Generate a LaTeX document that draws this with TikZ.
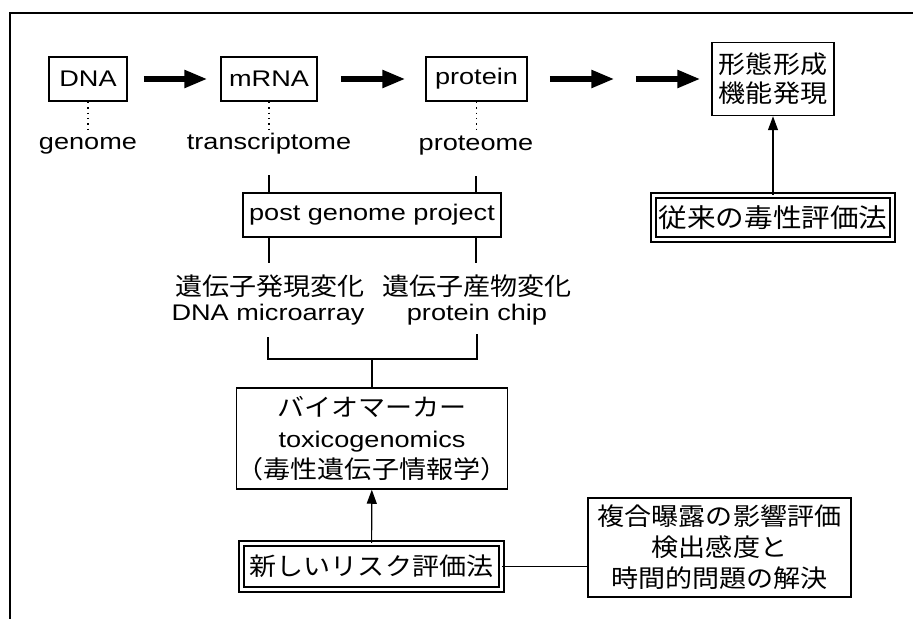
\documentclass[tikz,border=0pt]{standalone}
\usepackage{fontspec}
\setmainfont{Liberation Sans}[FakeStretch=1.2]
\newfontfamily\jpf{Noto Sans CJK JP}[FakeStretch=1.1]
\newcommand\J{\fontsize{12.3}{15.5}\jpf}
\usetikzlibrary{arrows.meta}
\begin{document}
\begin{tikzpicture}[x=0.5pt,y=-0.5pt,
  lat/.style={font=\fontsize{11.3}{15.5}\selectfont},
  jp/.style={font=\fontsize{12.3}{15.5}\jpf},
  box/.style={draw, line width=0.75pt, inner sep=0pt, align=center},
  dbox/.style={box, double, double distance=1.75pt},
  lbl/.style={inner sep=0pt, anchor=base, text height=10pt, text depth=2.5pt, font=\fontsize{11.3}{14}\selectfont},
  jplbl/.style={inner sep=0pt, anchor=base, font=\fontsize{12.3}{15.5}\jpf},
  bigarrow/.style={line width=2.7pt, -{Triangle[length=11.5pt,width=8.5pt]}},
  thinarrow/.style={line width=0.6pt, -{Triangle[length=7pt,width=5pt]}},
  conn/.style={line width=0.6pt},
  dots/.style={line width=0.7pt, dotted}]
\useasboundingbox (0,0) rectangle (913,619);
% frame
\draw[line width=0.75pt] (913,13) -- (10,13) -- (10,619);

% top row
\node[box, lat, minimum width=39pt, minimum height=22pt] (dna) at (88,79) {DNA};
\node[box, lat, minimum width=48pt, minimum height=22pt] (mrna) at (269,79) {mRNA};
\node[box, lat, minimum width=50.5pt, minimum height=22pt] (protein) at (476.5,79) {protein};
\node[box, font=\fontsize{12.3}{14.5}\jpf, minimum width=61pt, minimum height=36.5pt] (morph) at (773,79) {形態形成\\機能発現};

\draw[bigarrow, shorten <=8pt, shorten >=6.5pt] (dna) -- (mrna);
\draw[bigarrow, shorten <=11.5pt, shorten >=10pt] (mrna) -- (protein);
\draw[bigarrow, shorten <=11pt, shorten >=48.5pt] (protein) -- (morph);
\draw[bigarrow, shorten <=54pt, shorten >=5.5pt] (protein) -- (morph);

% omics labels
\node[lbl] (genome) at (88,150) {genome};
\node[lbl] (transcriptome) at (269,150) {transcriptome};
\node[lbl] (proteome) at (476,151) {proteome};
\draw[dots] (dna.south) -- (dna.south |- genome.north);
\draw[dots] (mrna.south) -- (mrna.south |- transcriptome.north);
\draw[dots] (protein.south) -- (protein.south |- proteome.north);

% post genome
\node[box, lat, minimum width=129pt, minimum height=22pt] (pg) at (372,215) {post genome project};
\draw[conn, shorten <=10pt] (transcriptome.south) -- (transcriptome.south |- pg.north);
\draw[conn, shorten <=10pt] (proteome.south) -- (proteome.south |- pg.north);

\node[jplbl] (gexp1) at (270,296) {遺伝子発現変化};
\node[lbl] (gexp2) at (268,321) {DNA microarray};
\node[jplbl] (gprod1) at (477,296) {遺伝子産物変化};
\node[lbl] (gprod2) at (477,321) {protein chip};
\draw[conn, shorten >=6pt] (transcriptome.south |- pg.south) -- (transcriptome.south |- gexp1.north);
\draw[conn, shorten >=6pt] (proteome.south |- pg.south) -- (proteome.south |- gprod1.north);

% biomarker
\node[box, lat, minimum width=125pt, minimum height=50.5pt] (bm) at (372,438.5)
  {{\J バイオマーカー}\\toxicogenomics\\{\J （毒性遺伝子情報学）}};
\coordinate (join) at (372,359);
\draw[conn] ([yshift=-5.5pt]gexp2.south) |- (join) -| ([yshift=-4pt]gprod2.south);
\draw[conn] (join) -- (bm.north);

% new risk assessment
\node[dbox, jp, minimum width=130pt, minimum height=23pt] (nr) at (371.5,566.5) {新しいリスク評価法};
\draw[thinarrow] (nr) -- (bm);
\node[box, jp, minimum width=131.5pt, minimum height=49.5pt] (rb) at (719.5,547.5)
  {複合曝露の影響評価\\検出感度と\\時間的問題の解決};
\draw[conn] (nr.east) -- (nr.east -| rb.west);

% conventional toxicity assessment
\node[dbox, font=\fontsize{13}{16}\jpf, minimum width=119.5pt, minimum height=22pt] (jr) at (773,217.5) {従来の毒性評価法};
\draw[thinarrow] (jr) -- (morph);
\end{tikzpicture}
\end{document}
